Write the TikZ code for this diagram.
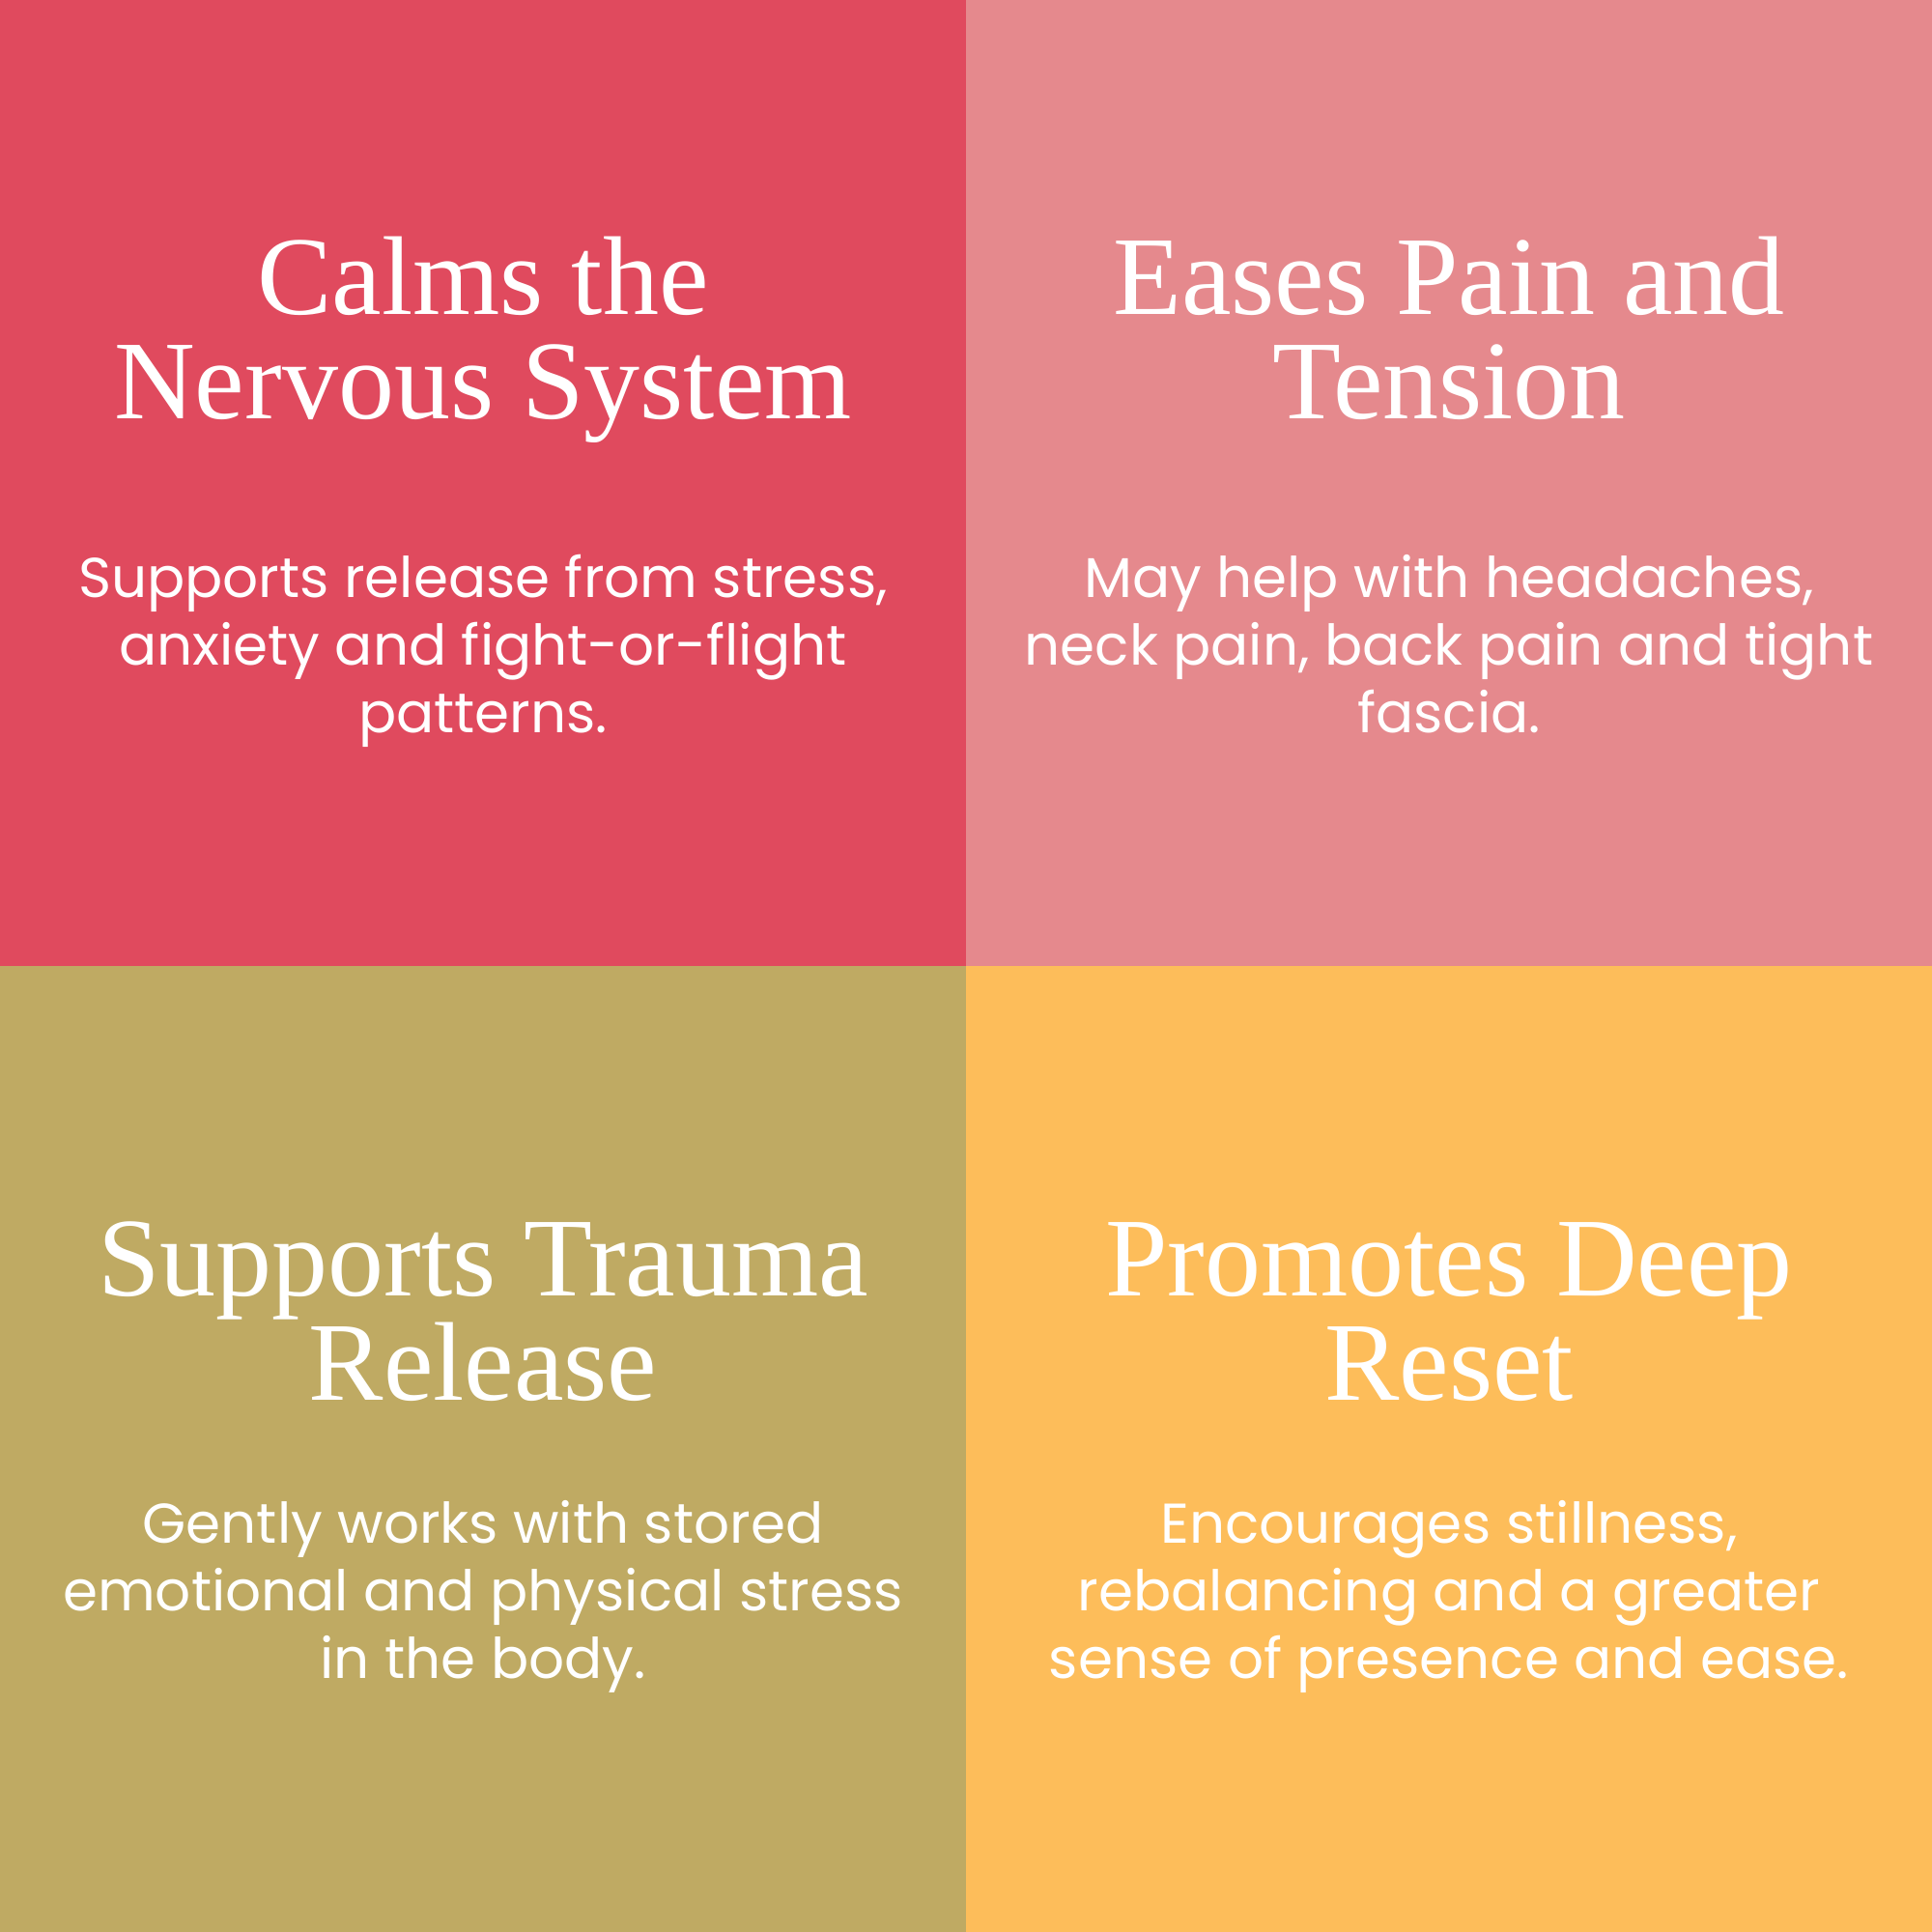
\documentclass[tikz,border=0pt]{standalone}
\usepackage{fontspec}
\setmainfont{Liberation Serif}
\newfontfamily\bodyfont{Poppins}
\definecolor{calmRed}{HTML}{E04A5E}
\definecolor{painPink}{HTML}{E5898D}
\definecolor{traumaOlive}{HTML}{BFAA63}
\definecolor{resetAmber}{HTML}{FDBD5A}
\tikzset{
  headline/.style={text=white,align=center,anchor=base,inner sep=0pt,
    font=\fontsize{33}{31}\selectfont},
  blurb/.style={text=white,align=center,anchor=base,inner sep=0pt,
    font=\bodyfont\fontsize{16.5}{20}\selectfont}
}
\begin{document}
\begin{tikzpicture}
  % the four panels
  \fill[calmRed] (0,10) rectangle (10,20);
  \fill[painPink] (10,10) rectangle (20,20);
  \fill[traumaOlive] (0,0) rectangle (10,10);
  \fill[resetAmber] (10,0) rectangle (20,10);

  % titles (anchored at the last line)
  \node[headline] (calmTitle) at (5,15.66) {Calms the\\Nervous System};
  \node[headline] (painTitle) at (15,15.66) {Eases Pain and\\Tension};
  \node[headline] (traumaTitle) at (5,5.50) {Supports Trauma\\Release};
  \node[headline] (resetTitle) at (15,5.50) {Promotes Deep\\Reset};

  % descriptions
  \node[blurb] (calmText) at (5,12.41) {Supports release from stress,\\anxiety and fight-or-flight\\patterns.};
  \node[blurb] (painText) at (15,12.41) {May help with headaches,\\neck pain, back pain and tight\\fascia.};
  \node[blurb] (traumaText) at (5,2.62) {Gently works with stored\\emotional and physical stress\\in the body.};
  \node[blurb] (resetText) at (15,2.62) {Encourages stillness,\\rebalancing and a greater\\sense of presence and ease.};
\end{tikzpicture}
\end{document}
